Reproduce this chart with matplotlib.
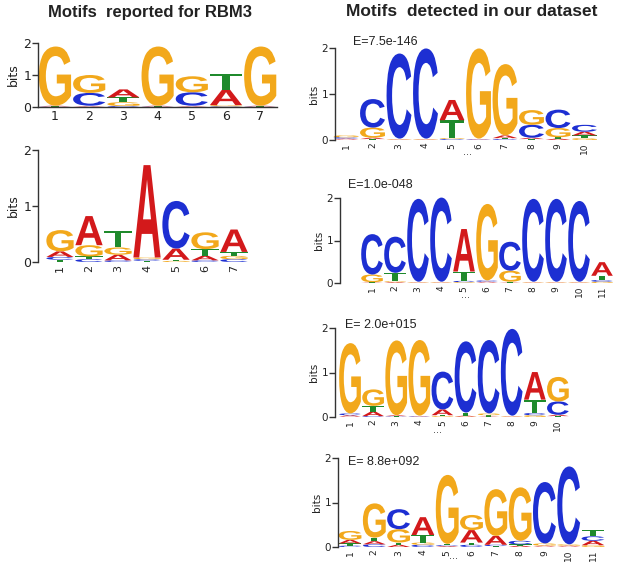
import numpy as np
import matplotlib.pyplot as plt
from matplotlib.textpath import TextPath
from matplotlib.patches import PathPatch
from matplotlib.font_manager import FontProperties
from matplotlib.transforms import Affine2D

W, H = 617, 565

# letter heights (bits) per position
p1_A = [0.02, 0.02, 0.25, 0.02, 0.02, 0.48, 0.02]
p1_C = [0.01, 0.40, 0.03, 0.01, 0.42, 0.02, 0.01]
p1_G = [1.85, 0.56, 0.12, 1.85, 0.50, 0.04, 1.85]
p1_T = [0.01, 0.02, 0.15, 0.01, 0.02, 0.50, 0.01]

p2_A = [0.10, 0.52, 0.10, 1.65, 0.20, 0.08, 0.40]
p2_C = [0.05, 0.05, 0.03, 0.03, 0.85, 0.03, 0.05]
p2_G = [0.38, 0.20, 0.13, 0.03, 0.02, 0.30, 0.06]
p2_T = [0.04, 0.05, 0.30, 0.02, 0.02, 0.12, 0.07]

p3_A = [0.02, 0.03, 0.01, 0.01, 0.44, 0.01, 0.06, 0.03, 0.03, 0.08]
p3_C = [0.03, 0.62, 1.85, 1.96, 0.02, 0.01, 0.02, 0.28, 0.40, 0.15]
p3_G = [0.04, 0.22, 0.01, 0.01, 0.02, 1.96, 1.55, 0.32, 0.20, 0.04]
p3_T = [0.01, 0.02, 0.01, 0.01, 0.39, 0.01, 0.02, 0.02, 0.03, 0.06]

p4_A = [0.01, 0.02, 0.01, 0.01, 1.00, 0.02, 0.01, 0.01, 0.01, 0.01, 0.32]
p4_C = [0.95, 0.85, 1.95, 1.98, 0.03, 0.03, 0.68, 1.95, 1.95, 1.90, 0.04]
p4_G = [0.18, 0.02, 0.01, 0.01, 0.02, 1.80, 0.26, 0.01, 0.01, 0.01, 0.03]
p4_T = [0.01, 0.20, 0.01, 0.01, 0.22, 0.01, 0.02, 0.01, 0.01, 0.01, 0.10]

p5_A = [0.03, 0.10, 0.02, 0.01, 0.13, 0.02, 0.01, 0.01, 0.62, 0.03]
p5_C = [0.04, 0.02, 0.01, 0.01, 0.85, 1.60, 1.65, 1.95, 0.05, 0.30]
p5_G = [1.58, 0.37, 1.68, 1.70, 0.02, 0.01, 0.04, 0.01, 0.04, 0.55]
p5_T = [0.01, 0.13, 0.01, 0.01, 0.02, 0.07, 0.03, 0.01, 0.30, 0.02]

p6_A = [0.08, 0.07, 0.05, 0.40, 0.02, 0.28, 0.20, 0.03, 0.02, 0.02, 0.10]
p6_C = [0.03, 0.06, 0.45, 0.05, 0.02, 0.05, 0.03, 0.08, 1.38, 1.75, 0.10]
p6_G = [0.20, 0.77, 0.30, 0.05, 1.55, 0.34, 1.05, 1.20, 0.05, 0.03, 0.04]
p6_T = [0.05, 0.08, 0.05, 0.17, 0.03, 0.05, 0.02, 0.03, 0.01, 0.01, 0.14]

evalues = ['E=7.5e-146', 'E=1.0e-048', 'E= 2.0e+015', 'E= 8.8e+092']

colors = {'A': '#d3191b', 'C': '#1d2fd2', 'G': '#f2a81b', 'T': '#1f8a2c'}
fp = FontProperties(family='Liberation Sans', weight='bold')
txt = '#222222'

fig = plt.figure(figsize=(W / 100, H / 100), dpi=100)


def letter(ax, ch, x, y, h, w=0.94):
    tp = TextPath((0, 0), ch, size=1, prop=fp)
    ext = tp.get_extents()
    t = Affine2D().translate(-ext.x0, -ext.y0).scale(w / ext.width, h / ext.height).translate(x - w / 2, y)
    ax.add_patch(PathPatch(t.transform_path(tp), fc=colors[ch], ec='none', clip_on=False))


def logo(ax, A, C, G, T):
    for i in range(len(A)):
        col = sorted(zip([A[i], C[i], G[i], T[i]], 'ACGT'))
        y = 0
        for h, ch in col:
            letter(ax, ch, i + 1, y, h)
            y += h


def panel(x_spine, x_first, dx, n, y0, y2, fs, xfs, rot, base=False):
    right = x_first + (n - 0.5) * dx
    ax = fig.add_axes([x_spine / W, 1 - y0 / H, (right - x_spine) / W, (y0 - y2) / H])
    ax.set_xlim(1 - (x_first - x_spine) / dx, n + 0.5)
    ax.set_ylim(0, 2)
    for s in ['top', 'right']:
        ax.spines[s].set_visible(False)
    ax.spines['bottom'].set_visible(base)
    ax.spines['left'].set_bounds(0, 2)
    for s in ['left', 'bottom']:
        ax.spines[s].set_color('#333333')
        ax.spines[s].set_linewidth(1)
    ax.set_yticks([0, 1, 2])
    ax.set_yticklabels(['0', '1', '2'], fontsize=fs, color=txt)
    ax.tick_params(axis='y', length=4, width=1, pad=1, color='#333333')
    ax.set_xticks(np.arange(1, n + 1))
    ax.set_xticklabels([str(i) for i in range(1, n + 1)], rotation=rot, fontsize=xfs, color=txt)
    ax.tick_params(axis='x', length=0, pad=2)
    ax.set_ylabel('bits', fontsize=fs, color=txt, labelpad=2)
    return ax


ax1 = panel(38, 55, 34.2, 7, 107, 43, 9, 9, 0, base=True)
logo(ax1, p1_A, p1_C, p1_G, p1_T)
ax2 = panel(38, 60, 29, 7, 262, 150, 9, 8, 90)
logo(ax2, p2_A, p2_C, p2_G, p2_T)

ax3 = panel(335, 346, 26.5, 10, 140, 48, 7.5, 6.5, 90)
logo(ax3, p3_A, p3_C, p3_G, p3_T)
ax4 = panel(340, 372, 23, 11, 283, 198, 7.5, 6.5, 90)
logo(ax4, p4_A, p4_C, p4_G, p4_T)
ax5 = panel(335, 350, 23.1, 10, 417, 328, 7.5, 6.5, 90)
logo(ax5, p5_A, p5_C, p5_G, p5_T)
ax6 = panel(338, 350, 24.3, 11, 547, 458, 7.5, 6.5, 90)
logo(ax6, p6_A, p6_C, p6_G, p6_T)

fig.text(150 / W, 1 - 12 / H, 'Motifs  reported for RBM3', ha='center', va='center',
         fontsize=12, fontweight='bold', color=txt, family='Liberation Sans')
fig.text(472 / W, 1 - 12 / H, 'Motifs  detected in our dataset', ha='center', va='center',
         fontsize=12.5, fontweight='bold', color=txt, family='Liberation Sans')

for (x, y), e in zip([(353, 42), (348, 185), (345, 325), (348, 462)], evalues):
    fig.text(x / W, 1 - y / H, e, ha='left', va='center', fontsize=9, color=txt,
             family='Liberation Sans')

for x, y in [(468, 155), (465, 298), (438, 433), (453, 559)]:
    fig.text(x / W, 1 - y / H, '···', ha='center', va='center', fontsize=7, color='#444444')

fig.savefig('out.png', dpi=100)
